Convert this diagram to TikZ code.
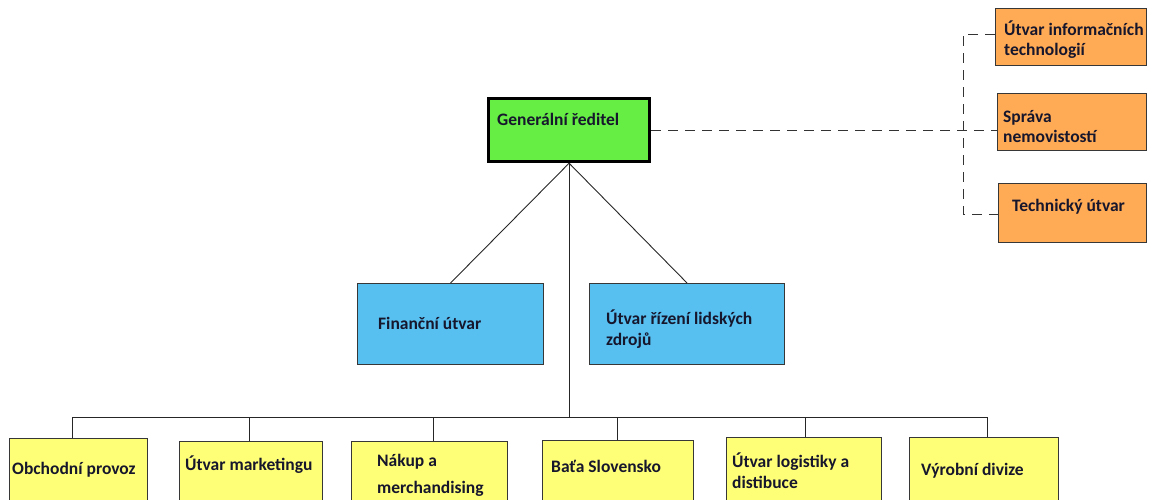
\documentclass[tikz,border=0pt]{standalone}
\usepackage{fontspec}
\setmainfont{Carlito}
\definecolor{grn}{RGB}{102,238,68}
\definecolor{blu}{RGB}{87,192,240}
\definecolor{org}{RGB}{255,170,85}
\definecolor{yel}{RGB}{255,255,119}
\definecolor{txt}{RGB}{22,22,45}
\definecolor{edge}{RGB}{55,55,55}
\tikzset{
  box/.style={draw=edge, line width=1.1pt, inner sep=0pt, anchor=north west},
  lbl/.style={anchor=base west, inner sep=0pt, text=txt, font=\bfseries\fontsize{17.5}{21}\selectfont, align=left},
  link/.style={draw=black!85, line width=0.9pt},
  dlink/.style={draw=black!80, line width=0.9pt, dash pattern=on 10pt off 7pt},
}
\begin{document}
\begin{tikzpicture}[x=1pt,y=-1pt]
\useasboundingbox (0,0) rectangle (1154,499);
\clip (0,0) rectangle (1154,499);
% top
\node[box, draw=black, line width=3.2pt, fill=grn, minimum width=161pt, minimum height=63pt] (gr) at (487,97) {};
\node[lbl] (grt) at (497,125) {Generální ředitel};
% orange
\node[box, fill=org, minimum width=151pt, minimum height=57pt] (ui) at (995,8) {};
\node[lbl, font=\bfseries\fontsize{17.5}{19.5}\selectfont] (uit) at (1004,55) {Útvar informačních\\technologií};
\node[box, fill=org, minimum width=149pt, minimum height=57pt] (sp) at (997,93) {};
\node[lbl, font=\bfseries\fontsize{17.5}{20}\selectfont] (spt) at (1003,142) {Správa\\nemovistostí};
\node[box, fill=org, minimum width=148pt, minimum height=59pt] (tu) at (998,183) {};
\node[lbl] (tut) at (1012,211) {Technický útvar};
% blue
\node[box, fill=blu, minimum width=186pt, minimum height=81pt] (fu) at (357,283) {};
\node[lbl] (fut) at (378,329) {Finanční útvar};
\node[box, fill=blu, minimum width=195pt, minimum height=81pt] (rz) at (589,283) {};
\node[lbl] (rzt) at (606,345) {Útvar řízení lidských\\zdrojů};
% yellow
\node[box, fill=yel, minimum width=138pt, minimum height=80pt] (y1) at (9,438) {};
\node[lbl] (y1t) at (12,474) {Obchodní provoz};
\node[box, fill=yel, minimum width=143pt, minimum height=80pt] (y2) at (179,441) {};
\node[lbl] (y2t) at (185,470) {Útvar marketingu};
\node[box, fill=yel, minimum width=156pt, minimum height=80pt] (y3) at (351,441) {};
\node[lbl, font=\bfseries\fontsize{17.5}{27}\selectfont] (y3t) at (377,493) {Nákup a\\merchandising};
\node[box, fill=yel, minimum width=151pt, minimum height=80pt] (y4) at (542,440) {};
\node[lbl] (y4t) at (551,472) {Baťa Slovensko};
\node[box, fill=yel, minimum width=155pt, minimum height=80pt] (y5) at (726,437) {};
\node[lbl] (y5t) at (732,488) {Útvar logistiky a\\distibuce};
\node[box, fill=yel, minimum width=149pt, minimum height=80pt] (y6) at (909,437) {};
\node[lbl] (y6t) at (921,475) {Výrobní divize};
% connectors
\coordinate (hub) at (568,417);
\draw[link] (gr.south) -- (fu.north);
\draw[link] (gr.south) -- (rz.north);
\draw[link] (gr.south) -- (gr.south |- hub);
\coordinate (d1) at (72,417);
\coordinate (d2) at (249,417);
\coordinate (d3) at (433,417);
\coordinate (d4) at (617,417);
\coordinate (d5) at (805,417);
\coordinate (d6) at (987,417);
\draw[link] (d1) -- (d6);
\draw[link] (d1) -- (d1 |- y1.north);
\draw[link] (d2) -- (d2 |- y2.north);
\draw[link] (d3) -- (d3 |- y3.north);
\draw[link] (d4) -- (d4 |- y4.north);
\draw[link] (d5) -- (d5 |- y5.north);
\draw[link] (d6) -- (d6 |- y6.north);
% dashed
\coordinate (v1) at (963,34);
\coordinate (v2) at (963,214);
\draw[dlink] (gr.east) -- (gr.east -| sp.west);
\draw[dlink] (v1 -| ui.west) -- (v1) -- (v2) -- (v2 -| tu.west);
\end{tikzpicture}
\end{document}
